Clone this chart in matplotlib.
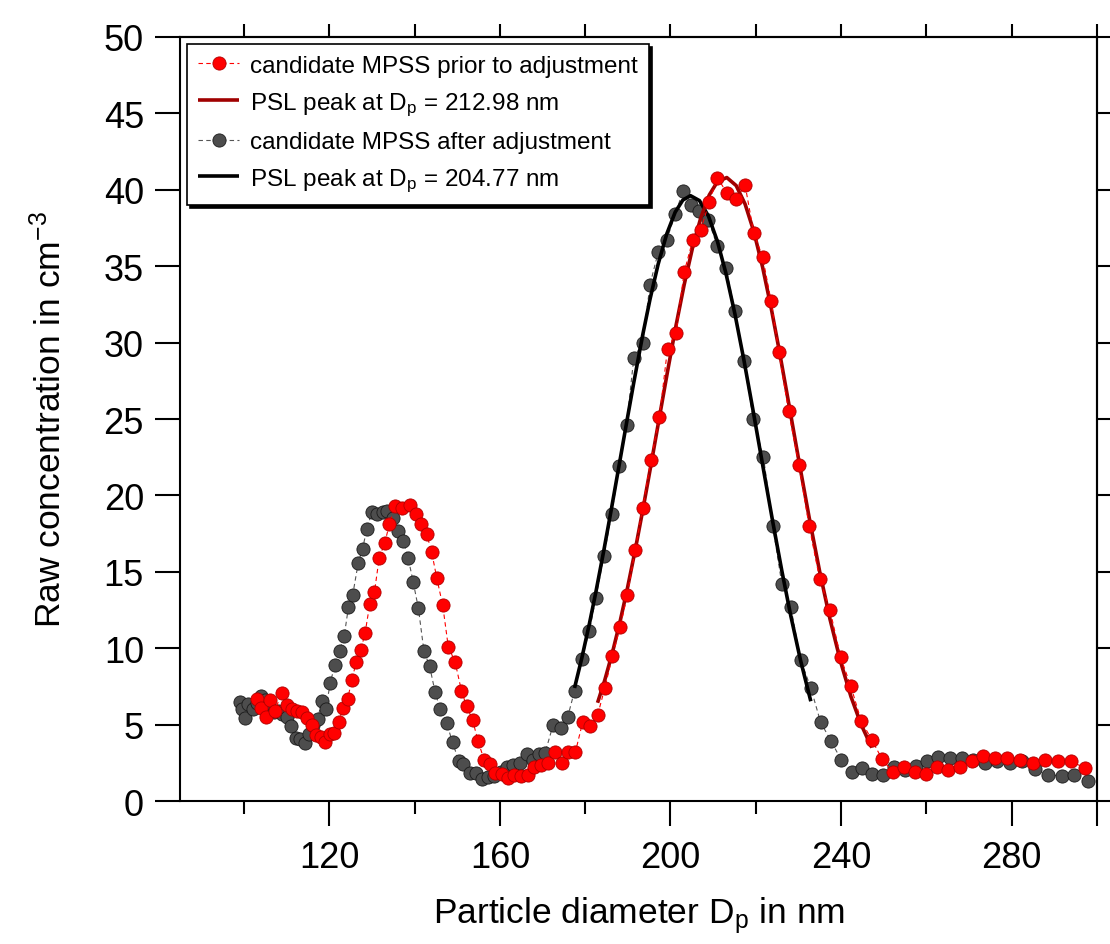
"""MPSS size scan of PSL spheres before/after diameter adjustment."""
import numpy as np
import matplotlib.pyplot as plt

plt.rcParams["font.family"] = ["Liberation Sans", "DejaVu Sans"]
plt.rcParams["mathtext.fontset"] = "custom"
plt.rcParams["mathtext.rm"] = "Liberation Sans"
plt.rcParams["mathtext.default"] = "regular"

# candidate MPSS prior to adjustment (diameter nm, raw concentration cm^-3)
dp_prior = [103.0, 104.1, 105.1, 106.1, 107.3, 108.8, 110.0, 111.3, 112.5, 113.6,
            114.7, 115.9, 116.9, 118.0, 119.0, 120.2, 121.2, 122.2, 123.3, 124.3,
            125.3, 126.3, 127.4, 128.4, 129.5, 130.6, 131.7, 133.0, 134.1, 135.4,
            137.0, 138.9, 140.3, 141.5, 142.8, 144.0, 145.2, 146.6, 147.9, 149.5,
            151.0, 152.2, 153.6, 154.9, 156.3, 157.7, 158.9, 160.4, 162.0, 163.3,
            164.9, 166.5, 168.0, 169.6, 171.3, 172.9, 174.5, 176.0, 177.7, 179.4,
            181.2, 182.9, 184.6, 186.4, 188.2, 189.9, 191.7, 193.5, 195.4, 197.4,
            199.3, 201.3, 203.2, 205.2, 207.1, 209.1, 211.0, 213.2, 215.4, 217.5,
            219.5, 221.6, 223.6, 225.4, 227.7, 230.1, 232.5, 235.0, 237.4, 239.9,
            242.3, 244.7, 247.2, 249.6, 252.1, 254.7, 257.3, 259.9, 262.5, 265.1,
            267.9, 270.6, 273.3, 276.1, 279.0, 282.0, 285.0, 287.9, 290.9, 293.9,
            297.2]
conc_prior = [6.7, 6.1, 5.5, 6.6, 5.9, 7.1, 6.3, 6.0, 5.9, 5.8,
              5.4, 5.0, 4.3, 4.2, 3.85, 4.4, 4.45, 5.2, 6.1, 6.7,
              7.9, 9.1, 9.9, 11.0, 12.9, 13.7, 15.9, 16.9, 18.1, 19.3,
              19.15, 19.4, 18.8, 18.1, 17.5, 16.3, 14.6, 12.8, 10.1, 9.1,
              7.2, 6.2, 5.3, 3.9, 2.7, 2.45, 1.8, 1.75, 1.5, 1.7,
              1.65, 1.7, 2.2, 2.35, 2.5, 3.2, 2.5, 3.2, 3.2, 5.15,
              4.9, 5.6, 7.4, 9.5, 11.4, 13.5, 16.4, 19.2, 22.3, 25.1,
              29.6, 30.6, 34.6, 36.7, 37.4, 39.2, 40.8, 39.8, 39.4, 40.3,
              37.2, 35.6, 32.7, 29.4, 25.5, 22.0, 18.0, 14.5, 12.5, 9.4,
              7.5, 5.25, 4.0, 2.75, 1.9, 2.2, 1.9, 1.75, 2.2, 2.05,
              2.25, 2.6, 2.95, 2.8, 2.8, 2.7, 2.5, 2.7, 2.6, 2.6,
              2.15]

# candidate MPSS after adjustment
dp_after = [99.1, 99.6, 100.2, 101.0, 102.0, 103.0, 104.0, 105.0, 106.0, 107.0,
            108.0, 108.9, 110.0, 111.1, 112.1, 113.1, 114.2, 115.3, 116.3, 117.3,
            118.2, 119.2, 120.2, 121.3, 122.4, 123.5, 124.5, 125.5, 126.8, 127.8,
            128.8, 130.0, 131.1, 132.5, 133.6, 134.9, 136.2, 137.4, 138.5, 139.7,
            140.9, 142.2, 143.5, 144.8, 146.0, 147.5, 148.9, 150.3, 151.4, 153.0,
            154.4, 155.9, 157.1, 158.6, 160.2, 161.6, 163.0, 164.7, 166.3, 167.8,
            169.2, 170.6, 172.5, 174.3, 175.9, 177.5, 179.2, 181.0, 182.5, 184.4,
            186.2, 188.0, 189.7, 191.4, 193.5, 195.2, 197.1, 199.1, 201.1, 202.9,
            204.7, 206.8, 208.9, 211.0, 213.0, 215.1, 217.2, 219.4, 221.8, 224.0,
            226.1, 228.2, 230.5, 232.9, 235.2, 237.6, 240.0, 242.5, 244.8, 247.3,
            249.8, 252.4, 255.0, 257.6, 260.2, 262.8, 265.5, 268.3, 271.0, 273.7,
            276.6, 279.6, 282.4, 285.5, 288.6, 291.7, 294.6, 298.0]
conc_after = [6.5, 6.0, 5.45, 6.35, 6.0, 6.4, 6.9, 6.6, 6.1, 5.8,
              5.9, 5.7, 5.5, 4.9, 4.15, 4.05, 3.8, 4.4, 5.0, 5.35,
              6.55, 6.0, 7.7, 8.9, 9.8, 10.8, 12.7, 13.5, 15.6, 16.5,
              17.8, 18.9, 18.8, 18.9, 19.0, 18.5, 17.7, 17.0, 15.9, 14.3,
              12.6, 9.8, 8.85, 7.15, 6.0, 5.1, 3.85, 2.65, 2.4, 1.8,
              1.8, 1.45, 1.55, 1.65, 1.9, 2.25, 2.35, 2.5, 3.1, 2.7,
              3.1, 3.15, 5.0, 4.8, 5.5, 7.2, 9.3, 11.15, 13.3, 16.05,
              18.8, 21.9, 24.6, 29.0, 30.0, 33.8, 35.9, 36.7, 38.4, 39.9,
              39.0, 38.6, 38.0, 36.3, 34.9, 32.1, 28.8, 25.0, 22.5, 18.0,
              14.2, 12.7, 9.25, 7.4, 5.15, 3.95, 2.7, 1.9, 2.15, 1.75,
              1.7, 2.2, 2.05, 2.3, 2.65, 2.9, 2.8, 2.8, 2.7, 2.5,
              2.6, 2.5, 2.6, 2.1, 1.7, 1.65, 1.7, 1.3]

# diameter windows used for the Gaussian PSL-peak fits
fit_window_prior = (182.5, 247.5)
fit_window_after = (177.0, 233.5)

yticks = list(range(0, 51, 5))
xticks_major = [120, 160, 200, 240, 280, 300]
xtick_labels = ["120", "160", "200", "240", "280", ""]
xticks_minor = [100, 140, 180, 220, 260]
xticks_top = list(range(100, 301, 20))


def gauss_fit(x, y):
    """Least-squares Gaussian + offset (Gauss-Newton), evaluated at x."""
    x = np.asarray(x, float)
    y = np.asarray(y, float)
    p = np.array([y.min(), y.max() - y.min(), x[np.argmax(y)], (x[-1] - x[0]) / 5])
    for _ in range(60):
        y0, a, xc, s = p
        e = np.exp(-0.5 * ((x - xc) / s) ** 2)
        f = y0 + a * e
        jac = np.column_stack([np.ones_like(x), e,
                               a * e * (x - xc) / s ** 2,
                               a * e * (x - xc) ** 2 / s ** 3])
        dp, *_ = np.linalg.lstsq(jac, y - f, rcond=None)
        p = p + dp
    y0, a, xc, s = p
    return y0 + a * np.exp(-0.5 * ((x - xc) / s) ** 2)


def window(x, y, lim):
    x = np.asarray(x)
    y = np.asarray(y)
    m = (x >= lim[0]) & (x <= lim[1])
    return x[m], y[m]


fig = plt.figure(figsize=(11.1, 9.45), dpi=100)
ax = fig.add_axes([0.16216, 0.15132, 0.82613, 0.80847])

RED = "#FF0000"
DARKRED = "#A00000"
GREY = "#4D4D4D"

l1, = ax.plot(dp_prior, conc_prior, color=RED, linestyle=(0, (4, 3)), linewidth=0.8,
              marker="o", markersize=9.5, markerfacecolor=RED, markeredgecolor="#B00000",
              markeredgewidth=0.6, zorder=4, label="candidate MPSS prior to adjustment")
xf, yf = window(dp_prior, conc_prior, fit_window_prior)
l2, = ax.plot(xf, gauss_fit(xf, yf), color=DARKRED, linewidth=2.6, zorder=3.5,
              solid_capstyle="butt", label="PSL peak at D$_p$ = 212.98 nm")
l3, = ax.plot(dp_after, conc_after, color="#555555", linestyle=(0, (4, 3)), linewidth=0.8,
              marker="o", markersize=9.5, markerfacecolor=GREY, markeredgecolor="#1A1A1A",
              markeredgewidth=0.6, zorder=3, label="candidate MPSS after adjustment")
xf, yf = window(dp_after, conc_after, fit_window_after)
l4, = ax.plot(xf, gauss_fit(xf, yf), color="black", linewidth=2.6, zorder=3.2,
              solid_capstyle="butt", label="PSL peak at D$_p$ = 204.77 nm")

ax.set_xlim(85, 300)
ax.set_ylim(0, 50)

for sp in ax.spines.values():
    sp.set_linewidth(1.5)

ax.set_yticks(yticks)
ax.set_xticks(xticks_major)
ax.set_xticklabels(xtick_labels)
ax.set_xticks(xticks_minor, minor=True)
ax.tick_params(axis="y", which="major", direction="out", length=18, width=1.5,
               labelsize=26, pad=8, right=False)
ax.tick_params(axis="x", which="major", direction="out", length=18, width=1.5,
               labelsize=26, pad=10, top=False)
ax.tick_params(axis="x", which="minor", direction="out", length=9.4, width=1.5, top=False)

secy = ax.secondary_yaxis("right")
secy.set_yticks(yticks)
secy.set_yticklabels([])
secy.tick_params(direction="out", length=9.4, width=1.5)
secy.spines["right"].set_linewidth(1.5)

secx = ax.secondary_xaxis("top")
secx.set_xticks(xticks_top)
secx.set_xticklabels([])
secx.tick_params(direction="out", length=9.4, width=1.5)
secx.spines["top"].set_linewidth(1.5)

ax.set_xlabel("Particle diameter D$_p$ in nm", fontsize=25.5, labelpad=14)
ax.set_ylabel("Raw concentration in cm$^{-3}$", fontsize=25.5, labelpad=26)

leg = ax.legend(handles=[l1, l2, l3, l4], loc="upper left",
                bbox_to_anchor=(0.0076, 0.9908), borderaxespad=0, fontsize=17.5,
                numpoints=1, handlelength=1.7, handletextpad=0.45, labelspacing=0.55,
                borderpad=0.45, fancybox=False, framealpha=1, edgecolor="black",
                shadow={"facecolor": "black", "edgecolor": "black", "alpha": 1})
leg.get_frame().set_linewidth(1.2)
leg.set_zorder(10)

fig.savefig("out.png", dpi=100)
